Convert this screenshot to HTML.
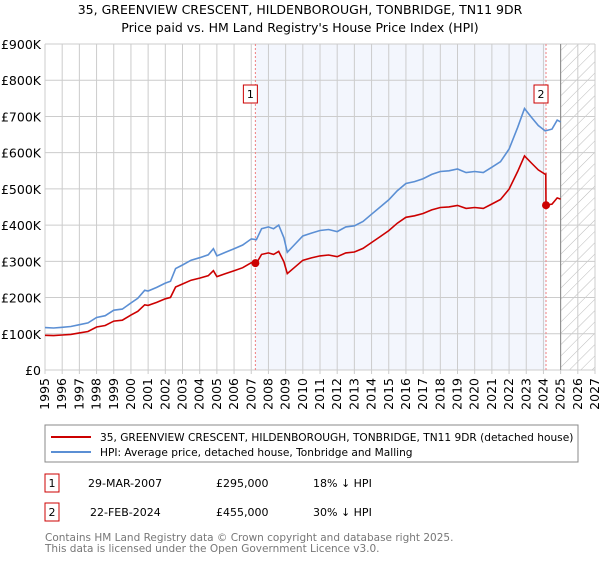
<!DOCTYPE html>
<html><head><meta charset="utf-8"><style>
body{margin:0;background:#fff;font-family:"Liberation Sans","DejaVu Sans",sans-serif}
svg text{font-family:"DejaVu Sans","Liberation Sans",sans-serif}
</style></head><body>
<svg id="c" width="600" height="560" viewBox="0 0 600 560">
<defs><pattern id="hatch" width="8" height="8" patternUnits="userSpaceOnUse" patternTransform="rotate(45)"><line x1="0" y1="0" x2="0" y2="8" stroke="#bbb" stroke-width="1"/></pattern></defs>
<text x="300" y="14" text-anchor="middle" font-size="12.5">35, GREENVIEW CRESCENT, HILDENBOROUGH, TONBRIDGE, TN11 9DR</text>
<text x="300" y="32" text-anchor="middle" font-size="12.5">Price paid vs. HM Land Registry's House Price Index (HPI)</text>
<g id="plot"></g>
<rect x="45" y="425" width="533" height="37" fill="#fff" stroke="#888"/>
<line x1="51" y1="437" x2="91" y2="437" stroke="#cc0000" stroke-width="2"/>
<text x="100" y="441" font-size="10.6">35, GREENVIEW CRESCENT, HILDENBOROUGH, TONBRIDGE, TN11 9DR (detached house)</text>
<line x1="51" y1="452" x2="91" y2="452" stroke="#5b8fd4" stroke-width="2"/>
<text x="100" y="456" font-size="10.6">HPI: Average price, detached house, Tonbridge and Malling</text>
<g>
<rect x="45" y="474" width="14" height="18" fill="#fff" stroke="#cc0000"/><text x="52" y="487" text-anchor="middle" font-size="11">1</text>
<text x="88" y="487" font-size="11">29-MAR-2007</text><text x="216" y="487" font-size="11">£295,000</text><text x="313" y="487" font-size="11">18% ↓ HPI</text></g>
<g>
<rect x="45" y="503" width="14" height="18" fill="#fff" stroke="#cc0000"/><text x="52" y="516" text-anchor="middle" font-size="11">2</text>
<text x="90" y="516" font-size="11">22-FEB-2024</text><text x="216" y="516" font-size="11">£455,000</text><text x="313" y="516" font-size="11">30% ↓ HPI</text></g>
<text x="45" y="541" font-size="10.5" fill="#777">Contains HM Land Registry data © Crown copyright and database right 2025.</text>
<text x="45" y="552" font-size="10.5" fill="#777">This data is licensed under the Open Government Licence v3.0.</text>
</svg>
<script>
const hpiYears=[1995,1995.5,1996,1996.5,1997,1997.5,1998,1998.5,1999,1999.5,2000,2000.4,2000.8,2001,2001.5,2002,2002.3,2002.6,2003,2003.5,2004,2004.5,2004.8,2005,2005.5,2006,2006.5,2007,2007.3,2007.6,2008,2008.3,2008.6,2008.9,2009.1,2009.5,2010,2010.5,2011,2011.5,2012,2012.5,2013,2013.5,2014,2014.5,2015,2015.5,2016,2016.5,2017,2017.5,2018,2018.5,2019,2019.5,2020,2020.5,2021,2021.5,2022,2022.5,2022.9,2023.3,2023.7,2024.1,2024.5,2024.8,2025];
const hpiValues=[117,116,118,120,125,130,145,150,165,168,185,198,220,218,228,240,245,280,290,303,310,318,335,315,325,335,345,362,360,390,395,390,400,365,325,345,370,378,385,388,382,395,398,410,430,450,470,495,515,520,528,540,548,550,555,545,548,545,560,575,610,670,722,698,675,660,665,690,685];
const saleYears=[2007.24,2024.15];
const salePrices=[295,455];
const yTicks=[0,100,200,300,400,500,600,700,800,900];
const yTickLabels=["£0","£100K","£200K","£300K","£400K","£500K","£600K","£700K","£800K","£900K"];
const xTicks=[1995,1996,1997,1998,1999,2000,2001,2002,2003,2004,2005,2006,2007,2008,2009,2010,2011,2012,2013,2014,2015,2016,2017,2018,2019,2020,2021,2022,2023,2024,2025,2026,2027];
const X0=45,X1=595,Y0=370,Y1=44;
const x=v=>X0+(v-1995)/(2027-1995)*(X1-X0);
const y=v=>Y0-v/900*(Y0-Y1);
const ns="http://www.w3.org/2000/svg";
const g=document.getElementById('plot');
function mk(t,a,p){const e=document.createElementNS(ns,t);for(const k in a)e.setAttribute(k,a[k]);(p||g).appendChild(e);return e;}
function hpiAt(t){for(let i=1;i<hpiYears.length;i++){if(t<=hpiYears[i]){const f=(t-hpiYears[i-1])/(hpiYears[i]-hpiYears[i-1]);return hpiValues[i-1]+f*(hpiValues[i]-hpiValues[i-1]);}}return hpiValues[hpiValues.length-1];}
let r=mk('rect',{x:x(saleYears[0]),y:Y1,width:x(saleYears[1])-x(saleYears[0]),height:Y0-Y1,fill:'#f3f6fd'});

r=mk('rect',{x:x(2025),y:Y1,width:X1-x(2025),height:Y0-Y1,fill:'url(#hatch)'});

yTicks.forEach((v,i)=>{const l=mk('line',{x1:X0,x2:X1,y1:y(v),y2:y(v),stroke:'#ccc'});

const t=mk('text',{x:X0-4,y:y(v)+5,'text-anchor':'end','font-size':'12.5'});t.textContent=yTickLabels[i];
});
xTicks.forEach(v=>{const l=mk('line',{x1:x(v),x2:x(v),y1:Y1,y2:Y0+4,stroke:'#ccc'});

const t=mk('text',{x:x(v)+4,y:Y0+8,'text-anchor':'end','font-size':'12.5',transform:`rotate(-90 ${x(v)+4} ${Y0+8})`});t.textContent=v;
});
let vl=mk('line',{x1:x(2025),x2:x(2025),y1:Y1,y2:Y0,stroke:'#888'});

saleYears.forEach((s,i)=>{const l=mk('line',{x1:x(s),x2:x(s),y1:Y1,y2:Y0,stroke:'#f08080','stroke-dasharray':'2,2'});
});
let d=hpiYears.map((t,i)=>(i?'L':'M')+x(t).toFixed(1)+','+y(hpiValues[i]).toFixed(1)).join('');
let p=mk('path',{d,fill:'none',stroke:'#5b8fd4','stroke-width':1.6});

const k0=salePrices[0]/hpiAt(saleYears[0]),k1=salePrices[1]/hpiAt(saleYears[1]);
let pts=[];
hpiYears.forEach((t,i)=>{if(t<saleYears[1])pts.push([t,hpiValues[i]*k0]);});
pts.push([saleYears[1]-0.01,hpiAt(saleYears[1])*k0]);pts.push([saleYears[1],salePrices[1]]);
hpiYears.forEach((t,i)=>{if(t>saleYears[1])pts.push([t,hpiValues[i]*k1]);});
d=pts.map((q,i)=>(i?'L':'M')+x(q[0]).toFixed(1)+','+y(q[1]).toFixed(1)).join('');
p=mk('path',{d,fill:'none',stroke:'#cc0000','stroke-width':1.6});

saleYears.forEach((s,i)=>{const c=mk('circle',{cx:x(s),cy:y(salePrices[i]),r:4,fill:'#cc0000'});

const b=mk('rect',{x:x(s)-12,y:85,width:14,height:18,fill:'#fff',stroke:'#cc0000'});

const t=mk('text',{x:x(s)-5,y:98,'text-anchor':'middle','font-size':'11'});t.textContent=String(i+1);
});
</script>
</body></html>
